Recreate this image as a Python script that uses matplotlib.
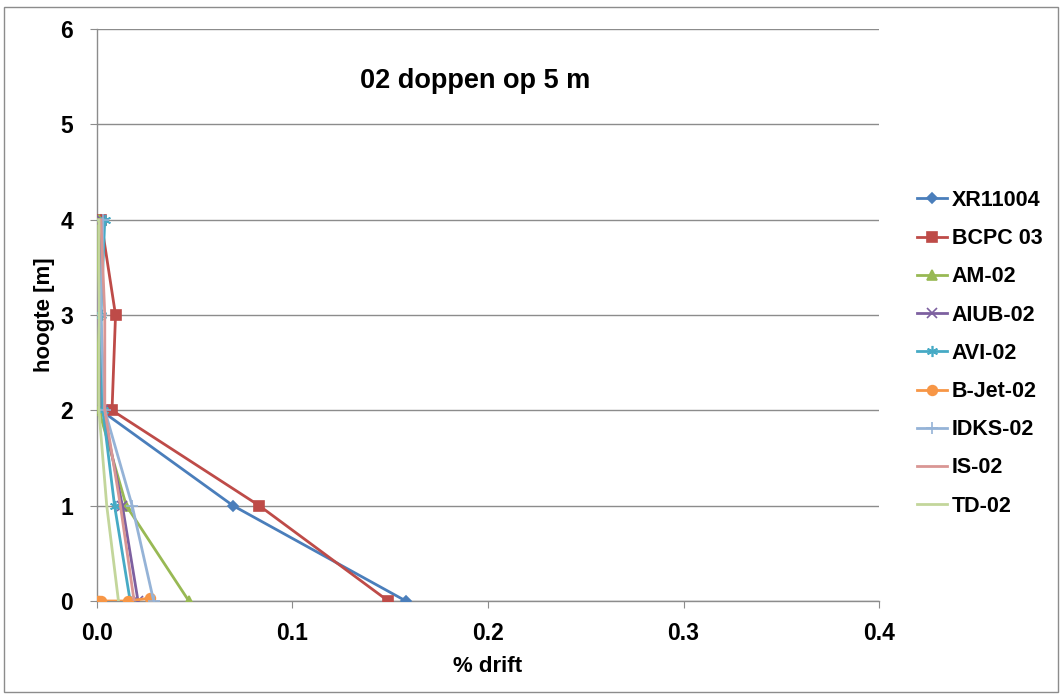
import matplotlib.pyplot as plt
from matplotlib.patches import Rectangle

plt.rcParams["font.family"] = ["Liberation Sans", "DejaVu Sans"]

# hoogte van de meetpunten [m]
hoogte = [0, 1, 2, 3, 4]

# % drift per dop, per hoogte
xr11004 = [0.158, 0.0696, 0.002, 0.001, 0.002]
bcpc_03 = [0.149, 0.083, 0.0077, 0.0095, 0.002]
am_02 = [0.047, 0.015, 0.001, 0.0005, 0.001]
aiub_02 = [0.021, 0.013, 0.003, 0.0005, 0.002]
avi_02 = [0.017, 0.009, 0.003, 0.002, 0.004]
idks_02 = [0.029, 0.018, 0.004, 0.002, 0.003]
is_02 = [0.019, 0.012, 0.004, 0.004, 0.002]
td_02 = [0.011, 0.005, 0.001, 0.001, 0.001]

# B-Jet: alle punten op hoogte 0
bjet_drift = [0.027, 0.016, 0.002, 0.001, 0.0005]
bjet_hoogte = [0.03, 0, 0, 0, 0]

series = [
    ("XR11004", xr11004, hoogte, "#4A7EBB", "D", 5),
    ("BCPC 03", bcpc_03, hoogte, "#BE4B48", "s", 7),
    ("AM-02", am_02, hoogte, "#98B954", "^", 7),
    ("AIUB-02", aiub_02, hoogte, "#7D60A0", "x", 7),
    ("AVI-02", avi_02, hoogte, "#46AAC5", (6, 2, 0), 8),
    ("B-Jet-02", bjet_drift, bjet_hoogte, "#F79646", "o", 7),
    ("IDKS-02", idks_02, hoogte, "#95B3D7", "+", 8),
    ("IS-02", is_02, hoogte, "#D99694", None, 0),
    ("TD-02", td_02, hoogte, "#C3D69B", None, 0),
]

fig = plt.figure(figsize=(10.62, 6.96), dpi=100)
fig.patches.append(Rectangle((0.004, 0.006), 0.992, 0.984, transform=fig.transFigure,
                             fill=False, edgecolor="#8c8c8c", linewidth=1.0))
ax = fig.add_axes([0.0913, 0.1365, 0.7364, 0.8218])

for naam, x, y, kleur, marker, ms in series:
    ax.plot(x, y, color=kleur, marker=marker, markersize=ms, linewidth=2,
            markeredgewidth=1.2, label=naam, zorder=3)

ax.set_xlim(0, 0.4)
ax.set_ylim(0, 6)
ax.set_xticks([0.0, 0.1, 0.2, 0.3, 0.4])
ax.set_xticklabels(["0.0", "0.1", "0.2", "0.3", "0.4"])
ax.set_yticks(range(7))
ax.grid(True, axis="y", color="#8c8c8c", linewidth=1.0, zorder=0)
for s in ["top", "right"]:
    ax.spines[s].set_visible(False)
for s in ["left", "bottom"]:
    ax.spines[s].set_color("#8c8c8c")
    ax.spines[s].set_linewidth(1.0)
ax.tick_params(axis="both", length=5, color="#8c8c8c", labelsize=16.5)
ax.tick_params(axis="x", pad=10)
ax.tick_params(axis="y", pad=12)
for lbl in ax.get_xticklabels() + ax.get_yticklabels():
    lbl.set_fontweight("bold")

ax.set_xlabel("% drift", fontsize=16, fontweight="bold", labelpad=8)
ax.set_ylabel("hoogte [m]", fontsize=16, fontweight="bold", labelpad=4)
ax.text(0.336, 0.91, "02 doppen op 5 m", transform=ax.transAxes, fontsize=19.5,
        fontweight="bold", va="center", ha="left")

ax.legend(loc="center left", bbox_to_anchor=(1.038, 0.433), frameon=False,
          prop={"weight": "bold", "size": 15.5}, handlelength=1.4,
          handletextpad=0.2, labelspacing=0.8, borderaxespad=0)

fig.savefig("out.png", dpi=100)
